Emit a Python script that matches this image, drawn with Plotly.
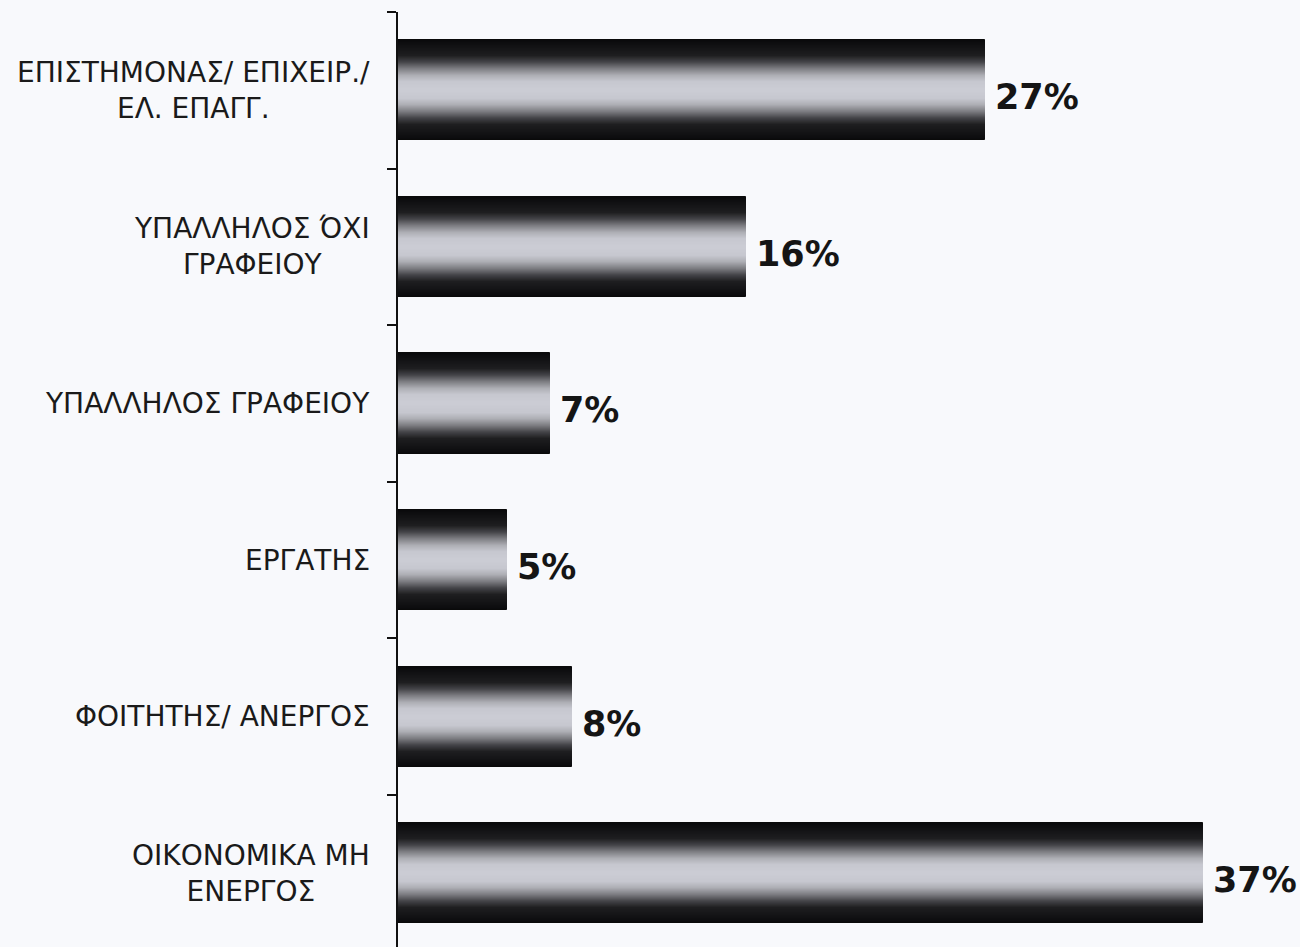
import plotly.graph_objects as go

categories = [
    "ΕΠΙΣΤΗΜΟΝΑΣ/ ΕΠΙΧΕΙΡ./<br>ΕΛ. ΕΠΑΓΓ.",
    "ΥΠΑΛΛΗΛΟΣ ΌΧΙ<br>ΓΡΑΦΕΙΟΥ",
    "ΥΠΑΛΛΗΛΟΣ ΓΡΑΦΕΙΟΥ",
    "ΕΡΓΑΤΗΣ",
    "ΦΟΙΤΗΤΗΣ/ ΑΝΕΡΓΟΣ",
    "ΟΙΚΟΝΟΜΙΚΑ ΜΗ<br>ΕΝΕΡΓΟΣ",
]
values = [27, 16, 7, 5, 8, 37]
value_labels = ["27%", "16%", "7%", "5%", "8%", "37%"]

positions = list(range(len(categories)))
boundaries = [p - 0.5 for p in positions]

BAR_W = 0.64
N_LAYERS = 50
# gradient stops: (normalized distance from bar centre, (r, g, b))
stops = [
    (0.00, (204, 205, 213)),
    (0.18, (198, 199, 207)),
    (0.30, (174, 175, 181)),
    (0.44, (124, 124, 129)),
    (0.57, (68, 68, 72)),
    (0.70, (30, 30, 32)),
    (1.00, (10, 10, 12)),
]


def shade(d):
    for (d0, c0), (d1, c1) in zip(stops[:-1], stops[1:]):
        if d <= d1:
            t = (d - d0) / (d1 - d0) if d1 > d0 else 0
            c = [round(a + (b - a) * t) for a, b in zip(c0, c1)]
            return f"rgb({c[0]},{c[1]},{c[2]})"
    c = stops[-1][1]
    return f"rgb({c[0]},{c[1]},{c[2]})"


fig = go.Figure()
for k in range(N_LAYERS):
    frac = 1 - k / N_LAYERS
    fig.add_trace(go.Bar(
        x=values,
        y=positions,
        orientation="h",
        width=BAR_W * frac,
        marker=dict(color=shade(frac),
                    line=dict(width=1 if k == 0 else 0, color="#0a0a0a")),
        hoverinfo="skip",
        showlegend=False,
    ))

annotations = []
for p, cat in zip(positions, categories):
    annotations.append(dict(
        x=0, xref="paper", y=p, yref="y",
        text=cat, showarrow=False, xanchor="right", yanchor="middle",
        align="center", xshift=-26,
        font=dict(family="DejaVu Sans", size=28, color="#1a1a1a"),
    ))
for p, v, lab in zip(positions, values, value_labels):
    annotations.append(dict(
        x=v, xref="x", y=p, yref="y",
        text=f"<b>{lab}</b>", showarrow=False, xanchor="left", yanchor="middle",
        xshift=8, yshift=-7,
        font=dict(family="DejaVu Sans", size=35, color="#151515"),
    ))

fig.update_layout(
    width=1300, height=947,
    margin=dict(l=398, r=0, t=12, b=0),
    paper_bgcolor="#f8f9fc",
    plot_bgcolor="#f8f9fc",
    barmode="overlay",
    bargap=0,
    annotations=annotations,
    xaxis=dict(range=[0, 41.47], visible=False, fixedrange=True),
    yaxis=dict(
        range=[5.471, -0.5],
        tickvals=boundaries,
        showticklabels=False,
        ticks="outside", ticklen=9, tickwidth=2, tickcolor="#111111",
        showline=True, linewidth=2, linecolor="#111111",
        showgrid=False, zeroline=False, fixedrange=True,
    ),
)

fig.write_html(
    "out.html",
    config={"displayModeBar": False},
    post_script="document.body.style.margin='0';document.body.style.background='#f8f9fc';",
)
